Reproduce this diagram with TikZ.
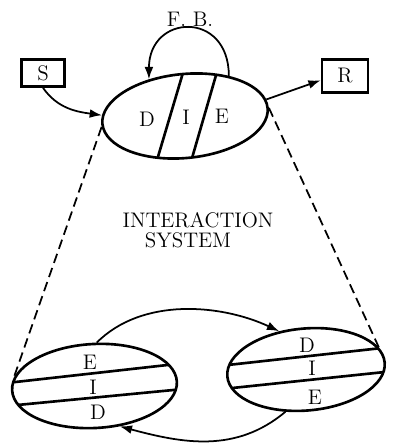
\documentclass[tikz,border=0pt]{standalone}
\usetikzlibrary{shapes.geometric,arrows.meta}
\tikzset{
  part/.style={ellipse,draw,line width=1.5pt,inner sep=0pt},
  box/.style={draw,line width=1.5pt,inner sep=0pt},
  link/.style={line width=1pt,-{Latex[length=7pt,width=5pt]}},
  zoomline/.style={line width=1pt,dash pattern=on 5.5pt off 3pt},
  divide/.style={line width=1.5pt}
}
\begin{document}
\begin{tikzpicture}[x=0.02cm,y=0.02cm,font=\fontsize{12}{14}\selectfont]
    \useasboundingbox (0,0) rectangle (393,446);
    % the system as a whole
    \node[part,minimum width=3.32cm,minimum height=1.68cm,rotate=5.5,
      path picture={\draw[divide] (4.8,49.8) -- (-34.8,-47.9);
                    \draw[divide] (38.7,47.5) -- (0.3,-49.3);}] (die) at (185,330) {};
    \node (dtop) at (147,327) {D};
    \node (itop) at (186,329) {I};
    \node (etop) at (222,330) {E};
    \node[box,minimum width=0.86cm,minimum height=0.54cm] (S) at (43,373) {S};
    \node[box,minimum width=0.92cm,minimum height=0.66cm] (R) at (345,370) {R};
    \node (fb) at (190,427) {F. B.};
    \draw[link] (S.south) to[out=-55,in=172] (die.174);
    \draw[link] (die.6) -- (R.190);
    \draw[link] (die.37) to[out=90,in=90,looseness=2.1] (die.129);
    % the two partners
    \node (title1) at (198,226) {INTERACTION};
    \node (title2) at (188,206) {SYSTEM};
    \node[part,minimum width=3.3cm,minimum height=1.68cm,rotate=3,
      path picture={\draw[divide] (-94.3,7.2) -- (91.6,18.2);
                    \draw[divide] (-95.5,-15.7) -- (95.2,-7.4);}] (lel) at (94.5,60) {};
    \node (elft) at (90,84) {E};
    \node (ilft) at (93,59) {I};
    \node (dlft) at (98,34) {D};
    \node[part,minimum width=3.16cm,minimum height=1.64cm,rotate=5,
      path picture={\draw[divide] (-95.4,10.9) -- (95.7,15.2);
                    \draw[divide] (-97.4,-12.4) -- (93.5,-9.1);}] (rel) at (306,76.5) {};
    \node (drgt) at (307,101) {D};
    \node (irgt) at (312,78) {I};
    \node (ergt) at (315,49) {E};
    \draw[zoomline] (die.182) -- (lel.171);
    \draw[zoomline] (die.0) -- (rel.12);
    \draw[link] (lel.84) to[out=45,in=155,looseness=0.9] (rel.120);
    \draw[link] (rel.239) to[out=220,in=-15] (lel.299);
\end{tikzpicture}
\end{document}
